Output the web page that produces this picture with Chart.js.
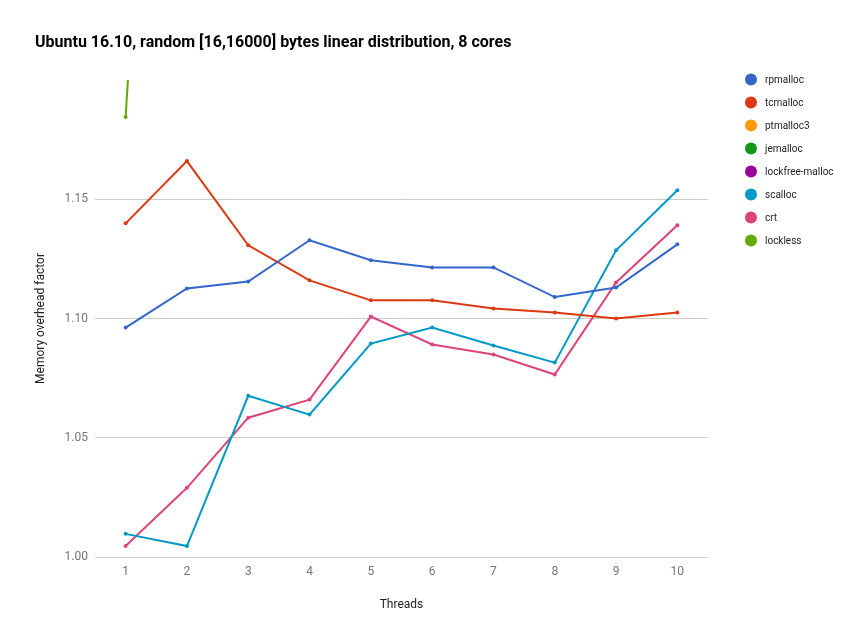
<!DOCTYPE html>
<html>
<head>
<meta charset="utf-8">
<script src="https://cdn.jsdelivr.net/npm/chart.js@4/dist/chart.umd.min.js"></script>
<style>
html,body{margin:0;padding:0;background:#fff;}
#wrap{width:863px;height:643px;position:relative;}
</style>
</head>
<body>
<div id="wrap"><canvas id="c" width="863" height="643"></canvas></div>
<script>
const titleText = "Ubuntu 16.10, random [16,16000] bytes linear distribution, 8 cores";
const threads = ["1","2","3","4","5","6","7","8","9","10"];
const seriesNames = ["rpmalloc","tcmalloc","ptmalloc3","jemalloc","lockfree-malloc","scalloc","crt","lockless"];
const seriesColors = ["#3366cc","#dc3912","#ff9900","#109618","#990099","#0099c6","#dd4477","#66aa00"];
const rpmalloc = [1.0962,1.1126,1.1155,1.1328,1.1244,1.1214,1.1214,1.1090,1.1130,1.1311];
const tcmalloc = [1.1399,1.1660,1.1307,1.1160,1.1076,1.1076,1.1042,1.1025,1.1000,1.1025];
const ptmalloc3 = [];
const jemalloc = [];
const lockfreeMalloc = [];
const scalloc = [1.0097,1.0046,1.0676,1.0597,1.0895,1.0962,1.0887,1.0815,1.1286,1.1538];
const crt = [1.0046,1.0290,1.0584,1.0660,1.1008,1.0891,1.0849,1.0765,1.1151,1.1391];
const lockless = [1.1845,1.60,null,null,null,null,null,null,null,null];
const yTicks = [1.00,1.05,1.10,1.15];
const yMin = 1.00, yMax = 1.20;

const seriesData = [rpmalloc,tcmalloc,ptmalloc3,jemalloc,lockfreeMalloc,scalloc,crt,lockless];

const datasets = seriesNames.map((n,i)=>({
  label:n,
  data:seriesData[i],
  borderColor:seriesColors[i],
  backgroundColor:seriesColors[i],
  borderWidth:2,
  pointRadius:2,
  pointHoverRadius:3,
  pointBorderWidth:0,
  tension:0,
  spanGaps:false
}));

const overlay = {
  id:'overlay',
  afterDraw(chart){
    const ctx = chart.ctx;
    ctx.save();
    ctx.fillStyle = '#000';
    ctx.font = 'bold 16px Roboto';
    ctx.textBaseline = 'middle';
    ctx.textAlign = 'left';
    ctx.fillText(titleText, 35, 43);
    ctx.font = '10px Roboto';
    seriesNames.forEach((n,i)=>{
      const y = 79.5 + i*23;
      ctx.beginPath();
      ctx.fillStyle = seriesColors[i];
      ctx.arc(751, y, 6, 0, Math.PI*2);
      ctx.fill();
      ctx.fillStyle = '#222';
      ctx.fillText(n, 765, y+0.5);
    });
    ctx.restore();
  }
};

new Chart(document.getElementById('c'), {
  type:'line',
  data:{labels:threads, datasets},
  options:{
    responsive:false,
    animation:false,
    layout:{padding:{left:0,right:155,top:80,bottom:0}},
    plugins:{legend:{display:false},title:{display:false},tooltip:{enabled:false}},
    scales:{
      x:{
        offset:true,
        grid:{display:false,drawTicks:false},
        border:{display:false},
        ticks:{color:'#757575',font:{family:'Roboto',size:12},padding:8},
        title:{display:true,text:'Threads',color:'#222',font:{family:'Roboto',size:12},padding:{top:0,bottom:31}},
        afterFit(s){ s.height = 86; }
      },
      y:{
        min:yMin,max:yMax,
        grid:{color:'#cccccc',drawTicks:false,lineWidth:1},
        border:{display:false},
        afterBuildTicks(s){ s.ticks = yTicks.map(v=>({value:v})); },
        ticks:{color:'#757575',font:{family:'Roboto',size:12},padding:7,callback:v=>Number(v).toFixed(2)},
        title:{display:true,text:'Memory overhead factor',color:'#222',font:{family:'Roboto',size:12},padding:{top:34,bottom:0}},
        afterFit(s){ s.width = 95; }
      }
    }
  },
  plugins:[overlay]
});
</script>
</body>
</html>
